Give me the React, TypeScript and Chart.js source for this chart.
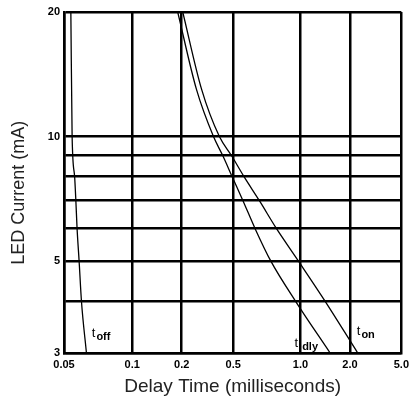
import React, { useEffect, useRef } from 'react';
import { Chart, registerables, LogarithmicScale } from 'chart.js';

Chart.register(...registerables);

// ---- data ----
const X_TICKS = [0.05, 0.1, 0.2, 0.5, 1.0, 2.0, 5.0];
const X_TICK_LABELS = ['0.05', '0.1', '0.2', '0.5', '1.0', '2.0', '5.0'];
// relative placement of the (hand-drawn) x grid lines across the axis
const X_TICK_FRACTIONS = [0, 0.2023, 0.349, 0.5015, 0.701, 0.8475, 1];
const Y_GRID = [3, 4, 5, 6, 7, 8, 9, 10, 20];
const Y_TICK_LABELS = [3, 5, 10, 20];

const TOFF_CURRENT = [20, 10, 8, 7, 6, 5, 4, 3];
const TOFF_TIME = [0.0536, 0.0543, 0.0557, 0.0564, 0.0571, 0.0583, 0.0597, 0.0628];

const CURRENT_MA = [20, 13, 10, 9, 8, 7, 6, 5, 4, 3];
const TDLY_TIME = [0.189, 0.26, 0.352, 0.415, 0.491, 0.553, 0.626, 0.737, 0.951, 1.516];
const TON_TIME = [0.2036, 0.285, 0.391, 0.485, 0.559, 0.655, 0.78, 0.98, 1.414, 2.3];

const CURVE_LABELS = [
  { main: 't', sub: 'off', x: 0.0663, y: 3.28 },
  { main: 't', sub: ' dly', x: 0.94, y: 3.1 },
  { main: 't', sub: 'on', x: 2.26, y: 3.32 },
];

const Y_TITLE = 'LED Current (mA)';
const X_TITLE = 'Delay Time (milliseconds)';

const FONT = '"Liberation Sans", Arial, Helvetica, sans-serif';

class SegmentedLogScale extends LogarithmicScale {
  static id = 'segmentedLog';
  static defaults = LogarithmicScale.defaults;

  buildTicks() {
    return X_TICKS.map((v) => ({ value: v }));
  }

  getPixelForValue(value: number) {
    let i = 0;
    while (i < X_TICKS.length - 2 && value > X_TICKS[i + 1]) i++;
    const a = X_TICKS[i];
    const b = X_TICKS[i + 1];
    const t = Math.log(value / a) / Math.log(b / a);
    const f = X_TICK_FRACTIONS[i] + t * (X_TICK_FRACTIONS[i + 1] - X_TICK_FRACTIONS[i]);
    return (this as any).getPixelForDecimal(f);
  }

  getValueForPixel(pixel: number) {
    const f = (this as any).getDecimalForPixel(pixel);
    let i = 0;
    while (i < X_TICK_FRACTIONS.length - 2 && f > X_TICK_FRACTIONS[i + 1]) i++;
    const t = (f - X_TICK_FRACTIONS[i]) / (X_TICK_FRACTIONS[i + 1] - X_TICK_FRACTIONS[i]);
    return X_TICKS[i] * Math.pow(X_TICKS[i + 1] / X_TICKS[i], t);
  }
}
Chart.register(SegmentedLogScale as any);

const curveLabelPlugin = {
  id: 'curveLabels',
  afterDatasetsDraw(chart: any) {
    const ctx = chart.ctx;
    const xs = chart.scales.x;
    const ys = chart.scales.y;
    ctx.save();
    ctx.fillStyle = '#000';
    ctx.textBaseline = 'alphabetic';
    ctx.textAlign = 'left';
    for (const l of CURVE_LABELS) {
      const px = xs.getPixelForValue(l.x);
      const py = ys.getPixelForValue(l.y);
      ctx.font = `13px ${FONT}`;
      ctx.fillText(l.main, px, py);
      const w = ctx.measureText(l.main).width;
      ctx.font = `bold 11px ${FONT}`;
      ctx.fillText(l.sub, px + w + 1, py + 3);
    }
    // y axis title
    const area = chart.chartArea;
    ctx.save();
    ctx.translate(19, area.top + (area.bottom - area.top) * 0.53);
    ctx.rotate(-Math.PI / 2);
    ctx.font = `18px ${FONT}`;
    ctx.fillStyle = '#222';
    ctx.textAlign = 'center';
    ctx.textBaseline = 'middle';
    ctx.fillText(Y_TITLE, 0, 0);
    ctx.restore();
    ctx.restore();
  },
};

export default function App() {
  const ref = useRef<HTMLCanvasElement>(null);

  useEffect(() => {
    if (!ref.current) return;
    const line = (xs: number[], ys: number[]) => xs.map((x, i) => ({ x, y: ys[i] }));
    const dsStyle = {
      borderColor: '#000',
      borderWidth: 1.3,
      pointRadius: 0,
      cubicInterpolationMode: 'monotone',
      fill: false,
    };
    const chart = new Chart(ref.current, {
      type: 'line',
      data: {
        datasets: [
          { label: 'toff', data: line(TOFF_TIME, TOFF_CURRENT), ...dsStyle },
          { label: 'tdly', data: line(TDLY_TIME, CURRENT_MA), ...dsStyle },
          { label: 'ton', data: line(TON_TIME, CURRENT_MA), ...dsStyle },
        ],
      },
      options: {
        animation: false,
        responsive: false,
        maintainAspectRatio: false,
        layout: { padding: { top: 12, right: 9, left: 0, bottom: 0 } },
        plugins: { legend: { display: false }, tooltip: { enabled: false } },
        scales: {
          x: {
            type: 'segmentedLog' as any,
            min: 0.05,
            max: 5,
            afterFit: (s: any) => {
              s.height = 51;
            },
            grid: { color: '#000', lineWidth: 2.5, drawTicks: false },
            border: { display: true, color: '#000', width: 2.5 },
            ticks: {
              padding: 5,
              maxRotation: 0,
              autoSkip: false,
              color: '#000',
              font: { family: FONT, size: 11, weight: 'bold' },
              callback: (_v: any, i: number) => X_TICK_LABELS[i],
            },
            title: {
              display: true,
              text: X_TITLE,
              color: '#222',
              font: { family: FONT, size: 19 },
              padding: { top: 0, bottom: 6 },
            },
          },
          y: {
            type: 'logarithmic',
            min: 3,
            max: 20,
            afterFit: (s: any) => {
              s.width = 64;
            },
            afterBuildTicks: (s: any) => {
              s.ticks = Y_GRID.map((v) => ({ value: v }));
            },
            grid: { color: '#000', lineWidth: 2.5, drawTicks: false },
            border: { display: true, color: '#000', width: 2.5 },
            ticks: {
              padding: 4,
              autoSkip: false,
              color: '#000',
              font: { family: FONT, size: 11, weight: 'bold' },
              callback: (v: any) => (Y_TICK_LABELS.includes(Number(v)) ? String(v) : ''),
            },
            title: { display: false },
          },
        },
      },
      plugins: [curveLabelPlugin],
    } as any);
    return () => chart.destroy();
  }, []);

  return (
    <div style={{ position: 'fixed', left: 0, top: 0, width: 414, height: 404, background: '#fff' }}>
      <canvas ref={ref} width={414} height={404} style={{ display: 'block', width: 414, height: 404 }} />
    </div>
  );
}
